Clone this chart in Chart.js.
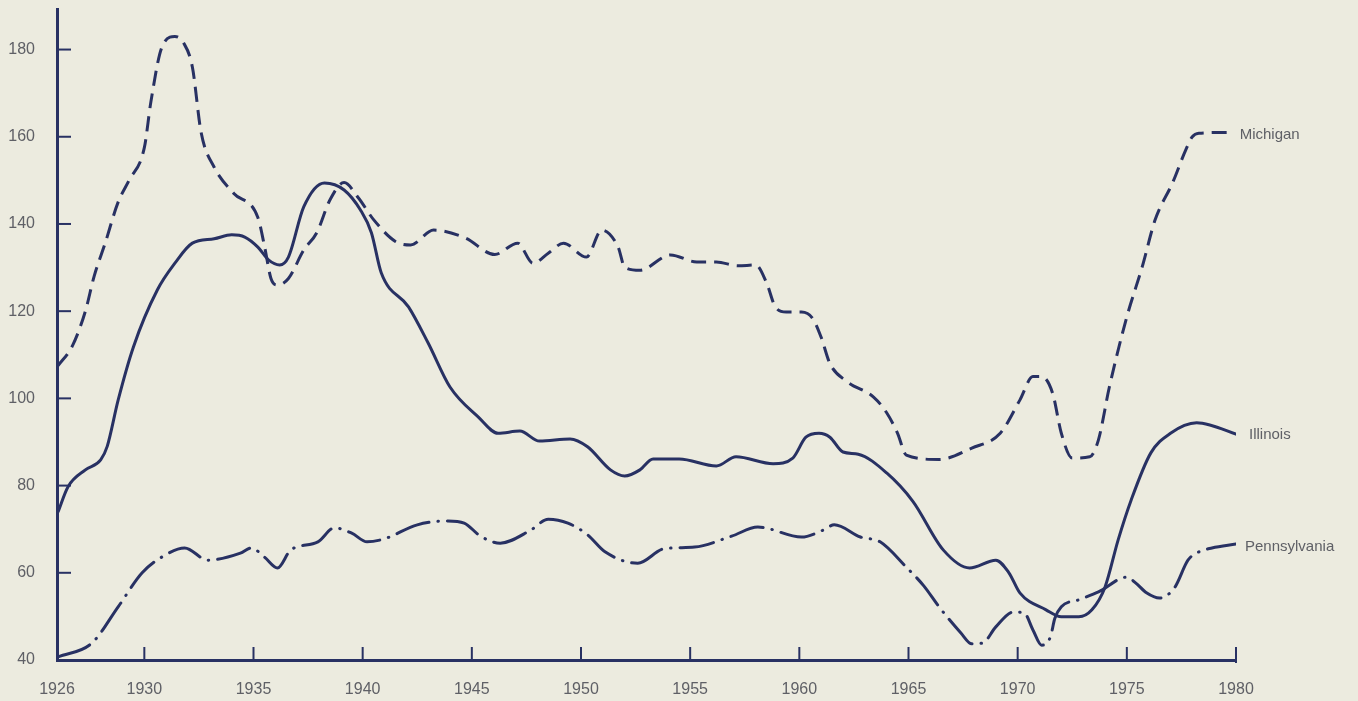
<!DOCTYPE html>
<html>
<head>
<meta charset="utf-8">
<script src="https://cdn.jsdelivr.net/npm/chart.js@4.4.0/dist/chart.umd.min.js"></script>
<style>
  html, body { margin: 0; padding: 0; background: #ecebdf; }
  canvas { display: block; }
</style>
</head>
<body>
<canvas id="chart" width="1358" height="701"></canvas>
<script>
// values (year, index value)
const yearTicks = [1926, 1930, 1935, 1940, 1945, 1950, 1955, 1960, 1965, 1970, 1975, 1980];
const valueTicks = [40, 60, 80, 100, 120, 140, 160, 180];

const michiganYears = [1926.05, 1926.7, 1927.3, 1927.7, 1928.2, 1928.8, 1929.3, 1930.0, 1930.3, 1930.8,
  1931.4, 1931.8, 1932.2, 1932.6, 1933.2, 1934.1, 1935.2, 1935.5, 1935.8, 1936.1,
  1936.6, 1937.3, 1937.9, 1938.5, 1939.15, 1939.8, 1940.5, 1941.5, 1942.2, 1943.25,
  1944.7, 1946.05, 1947.1, 1947.8, 1948.5, 1949.2, 1950.25, 1950.95, 1951.7, 1952.0,
  1952.7, 1954.1, 1955.3, 1956.2, 1957.2, 1958.0, 1958.5, 1958.9, 1959.4, 1960.1,
  1960.6, 1961.0, 1961.4, 1962.2, 1963.4, 1964.0, 1964.5, 1964.9, 1966.4, 1967.9,
  1969.2, 1970.1, 1970.7, 1971.1, 1971.6, 1972.0, 1972.5, 1973.3, 1973.7, 1974.2,
  1975.0, 1975.7, 1976.3, 1977.1, 1977.7, 1978.0, 1978.3, 1979.8];
const michiganValues = [107.5, 112, 120, 128, 135.5, 145, 150, 157.5, 168, 180.5,
  183, 181.5, 176, 161, 153, 147, 141.5, 135, 127.5, 126,
  127.5, 134, 138, 145.5, 149.5, 146, 141, 136, 135.2, 138.6,
  136.8, 133, 135.6, 131, 133.3, 135.6, 132.4, 138.6, 134.7, 130.1,
  129.4, 132.9, 131.3, 131.3, 130.4, 130.6, 126.5, 121, 119.8, 119.8,
  118.4, 114, 108, 103.8, 100.3, 96.7, 92, 87, 86, 88.6,
  92, 99.6, 105, 105, 101.2, 92, 86.3, 86.6, 90.5, 102.6,
  118.7, 130.1, 141, 149.5, 157, 160, 160.8, 161];

const illinoisYears = [1926.05, 1926.5, 1927.3, 1928.0, 1928.3, 1928.8, 1929.5, 1930.6, 1931.4, 1932.2,
  1933.2, 1934.0, 1934.6, 1935.2, 1935.7, 1936.2, 1936.6, 1937.3, 1938.25, 1939.15,
  1939.9, 1940.4, 1940.85, 1942.1, 1943.0, 1944.0, 1945.3, 1946.2, 1947.2, 1948.1,
  1949.5, 1950.3, 1951.35, 1952.0, 1952.7, 1953.3, 1954.5, 1956.2, 1957.1, 1958.8,
  1959.7, 1960.3, 1960.9, 1961.4, 1962.0, 1962.7, 1964.0, 1965.2, 1966.6, 1967.8,
  1969.0, 1969.6, 1970.1, 1971.3, 1972.0, 1972.8, 1973.4, 1974.0, 1974.6, 1975.2,
  1976.1, 1977.0, 1978.2, 1978.8, 1980.0];
const illinoisValues = [74, 79.7, 83.6, 85.9, 89, 99.6, 111.8, 124.9, 131, 135.6,
  136.6, 137.5, 137, 134.7, 131.7, 130.6, 132.4, 143.9, 149.4, 147.8,
  143.2, 138, 128.8, 121, 112.7, 102.6, 95.7, 92, 92.5, 90.2,
  90.7, 88.9, 83.6, 82.2, 83.6, 86.1, 86.1, 84.5, 86.6, 85,
  86.3, 91.1, 92, 91.1, 87.7, 87.2, 82.9, 76.4, 65.2, 61.1,
  62.9, 60, 55.4, 51.5, 49.9, 49.9, 51.5, 56.7, 67.5, 76.7,
  87.5, 92, 94.4, 93.9, 91.8];

const pennsylvaniaYears = [1926.05, 1927.6, 1928.8, 1929.9, 1930.8, 1931.85, 1932.9, 1934.4, 1934.9, 1935.5,
  1936.1, 1936.7, 1937.95, 1938.7, 1939.5, 1940.2, 1941.0, 1942.5, 1943.9, 1944.65,
  1945.4, 1946.3, 1947.7, 1948.5, 1949.4, 1950.3, 1951.1, 1952.6, 1953.8, 1955.2,
  1956.9, 1958.1, 1960.1, 1961.1, 1961.6, 1962.8, 1963.7, 1964.9, 1965.7, 1966.4,
  1967.4, 1967.9, 1968.4, 1969.0, 1969.8, 1970.3, 1970.7, 1971.1, 1971.5, 1971.7,
  1972.0, 1972.8, 1973.7, 1975.0, 1975.4, 1975.9, 1976.5, 1977.2, 1977.8, 1978.3,
  1978.9, 1980.0];
const pennsylvaniaValues = [40.7, 43.9, 52.2, 60, 63.6, 65.7, 62.9, 64.5, 65.7, 63.6,
  61.1, 65.2, 67.1, 70.3, 69.1, 67.1, 67.8, 71, 71.9, 71.4,
  68.4, 66.8, 69.8, 72.3, 71.4, 68.7, 64.8, 62.2, 65.5, 65.9,
  68.4, 70.5, 68.2, 69.8, 71, 68.2, 67.1, 61.3, 57, 52.2,
  46.2, 43.7, 43.9, 47.6, 51, 50.8, 46.9, 43.4, 45.3, 49.5,
  52.2, 53.8, 55.6, 59, 57.7, 55.4, 54.2, 56.7, 62.9, 64.8,
  65.7, 66.6];

const ink = '#283163';
const textGray = '#5f6066';

const toPoints = (xs, ys) => xs.map((x, i) => ({ x, y: ys[i] }));

const series = [
  { label: 'Michigan', data: toPoints(michiganYears, michiganValues), dash: [15, 8], cap: 'butt', dx: 8, dy: 2 },
  { label: 'Illinois', data: toPoints(illinoisYears, illinoisValues), dash: [], cap: 'round', dx: 13, dy: 1 },
  { label: 'Pennsylvania', data: toPoints(pennsylvaniaYears, pennsylvaniaValues), dash: [34, 9, 0.5, 9], cap: 'round', dx: 9, dy: 3 }
];

// inward tick marks on both axes
const innerTicks = {
  id: 'innerTicks',
  afterDraw(chart) {
    const { ctx, chartArea, scales: { x, y } } = chart;
    ctx.save();
    ctx.strokeStyle = ink;
    ctx.lineWidth = 2;
    valueTicks.slice(1).forEach(v => {
      const py = y.getPixelForValue(v);
      ctx.beginPath();
      ctx.moveTo(chartArea.left, py);
      ctx.lineTo(chartArea.left + 14, py);
      ctx.stroke();
    });
    yearTicks.slice(1).forEach(yr => {
      const px = x.getPixelForValue(yr);
      ctx.beginPath();
      ctx.moveTo(px, chartArea.bottom + (yr === 1980 ? 3 : 0));
      ctx.lineTo(px, chartArea.bottom - 13);
      ctx.stroke();
    });
    ctx.restore();
  }
};

// state names at the right-hand end of each line
const endLabels = {
  id: 'endLabels',
  afterDatasetsDraw(chart) {
    const { ctx } = chart;
    ctx.save();
    ctx.fillStyle = textGray;
    ctx.font = '15px "Liberation Sans", Arial, sans-serif';
    ctx.textBaseline = 'middle';
    chart.data.datasets.forEach((ds, i) => {
      const pts = chart.getDatasetMeta(i).data;
      const last = pts[pts.length - 1];
      ctx.fillText(ds.label, last.x + series[i].dx, last.y + series[i].dy);
    });
    ctx.restore();
  }
};

new Chart(document.getElementById('chart'), {
  type: 'line',
  data: {
    datasets: series.map(s => ({
      label: s.label,
      data: s.data,
      borderColor: ink,
      borderWidth: 3,
      borderDash: s.dash,
      borderCapStyle: s.cap,
      borderJoinStyle: 'round',
      pointRadius: 0,
      fill: false,
      cubicInterpolationMode: 'monotone'
    }))
  },
  options: {
    responsive: false,
    animation: false,
    layout: { padding: { top: 9, right: 122, left: 8, bottom: 0 } },
    plugins: {
      legend: { display: false },
      tooltip: { enabled: false }
    },
    scales: {
      x: {
        type: 'linear',
        min: 1926,
        max: 1980,
        afterBuildTicks: axis => { axis.ticks = yearTicks.map(value => ({ value })); },
        afterFit: axis => {
          axis.height = 41;
          axis.paddingLeft = 0;
          axis.paddingRight = 0;
        },
        grid: { display: false, drawTicks: false, tickLength: 0 },
        border: { display: true, color: ink, width: 3 },
        ticks: {
          color: textGray,
          padding: 20,
          maxRotation: 0,
          autoSkip: false,
          font: { family: '"Liberation Sans", Arial, sans-serif', size: 16 },
          callback: v => String(v)
        }
      },
      y: {
        min: 40,
        max: 189.3,
        afterBuildTicks: axis => { axis.ticks = valueTicks.map(value => ({ value })); },
        afterFit: axis => {
          axis.width = 49;
          axis.paddingTop = 0;
          axis.paddingBottom = 0;
        },
        grid: { display: false, drawTicks: false, tickLength: 0 },
        border: { display: true, color: ink, width: 3 },
        ticks: {
          color: textGray,
          padding: 22,
          autoSkip: false,
          font: { family: '"Liberation Sans", Arial, sans-serif', size: 16 }
        }
      }
    }
  },
  plugins: [innerTicks, endLabels]
});
</script>
</body>
</html>
